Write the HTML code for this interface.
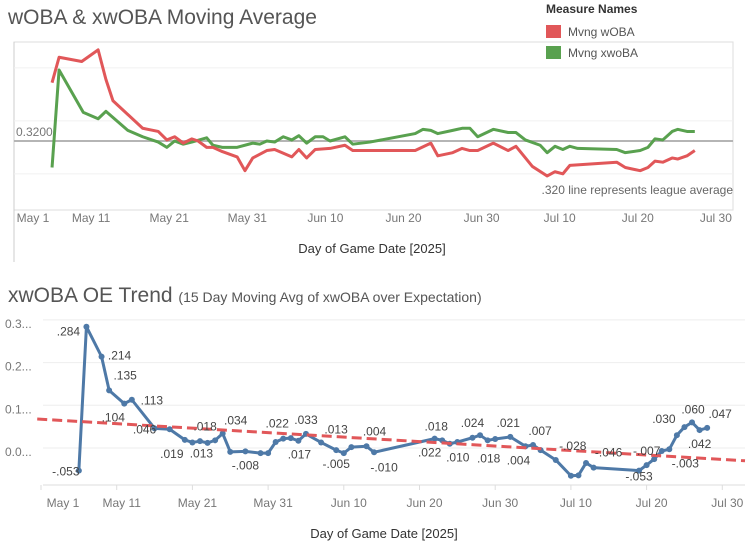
<!DOCTYPE html>
<html><head><meta charset="utf-8"><style>
body{margin:0;background:#fff;width:751px;height:546px;overflow:hidden;font-family:"Liberation Sans",sans-serif}
svg text{font-family:"Liberation Sans",sans-serif}
</style></head><body>
<svg id="c" width="751" height="546" viewBox="0 0 751 546">
<text x="8" y="24" font-size="21" fill="#555">wOBA &amp; xwOBA Moving Average</text>
<text x="546" y="13" font-size="12" font-weight="bold" fill="#333">Measure Names</text>
<rect x="546" y="25" width="15" height="13" fill="#e15759"/>
<text x="568" y="36" font-size="12" fill="#555">Mvng wOBA</text>
<rect x="546" y="46" width="15" height="13" fill="#59a14f"/>
<text x="568" y="57" font-size="12" fill="#555">Mvng xwoBA</text>
<g id="topchart"></g>
<text x="8" y="302" font-size="21" fill="#555">xwOBA OE Trend <tspan font-size="14">(15 Day Moving Avg of xwOBA over Expectation)</tspan></text>
<g id="botchart"></g>
</svg>
<script>
// ---- top chart data ----
const topTickLabels = ["May 1","May 11","May 21","May 31","Jun 10","Jun 20","Jun 30","Jul 10","Jul 20","Jul 30"];
const topGridValues = [0.289, 0.339, 0.389];
const leagueAvg = 0.320;
const wobaDays = [5.0,5.9,8.8,10.9,11.9,12.8,14.7,16.6,18.6,19.7,20.7,21.8,22.9,23.7,24.8,25.6,26.8,28.7,29.7,30.7,32.5,33.5,35.7,36.6,37.6,38.7,40.6,42.5,43.5,51.5,53.5,54.4,56.3,57.5,58.5,59.5,61.5,63.4,64.4,66.5,68.4,69.4,70.4,71.3,77.3,78.4,80.3,81.3,82.2,83.2,84.4,85.1,86.3,87.3];
const wobaValues = [.375,.399,.395,.406,.378,.358,.345,.332,.329,.321,.324,.318,.322,.320,.314,.314,.310,.305,.292,.304,.311,.312,.305,.312,.304,.312,.313,.316,.311,.311,.318,.306,.309,.313,.311,.311,.318,.311,.315,.296,.287,.291,.289,.297,.300,.295,.292,.295,.301,.300,.304,.303,.306,.311];
const xwobaDays = [5.0,5.9,9.0,10.9,11.9,14.7,16.6,18.6,19.7,20.7,21.8,22.9,24.8,25.6,26.8,28.7,30.7,31.6,32.5,33.5,34.6,35.7,36.6,37.6,38.7,39.7,40.6,42.5,43.5,45.7,51.5,52.5,53.5,54.4,56.3,57.5,58.5,59.5,61.5,63.4,64.4,65.6,67.5,68.4,69.4,70.4,71.3,72.3,77.3,78.4,80.3,81.3,82.2,83.2,84.4,85.1,86.3,87.3];
const xwobaValues = [.295,.387,.347,.341,.348,.330,.324,.319,.314,.320,.317,.319,.323,.316,.314,.314,.318,.317,.320,.319,.324,.321,.325,.318,.324,.324,.320,.324,.317,.319,.327,.331,.330,.327,.330,.332,.332,.324,.331,.328,.328,.321,.316,.309,.315,.312,.315,.313,.312,.309,.311,.314,.322,.321,.329,.331,.329,.329];

// ---- bottom chart data ----
const botTickLabels = ["May 1","May 11","May 21","May 31","Jun 10","Jun 20","Jun 30","Jul 10","Jul 20","Jul 30"];
const botYTicks = [0.3,0.2,0.1,0.0];
const botYTickLabels = ["0.3...","0.2...","0.1...","0.0..."];
const oeDays = [5,6,8,9,11,12,15,17,19,20,21,22,23,24,25,27,29,30,31,32,33,34,35,37,39,40,41,43,44,52,53,54,55,57,58,59,60,62,64,65,66,68,70,71,72,73,79,80,81,82,83,84,85,86,87,88];
const oeValues = [-.053,.284,.214,.135,.104,.113,.046,.044,.019,.013,.016,.012,.018,.034,-.009,-.008,-.012,-.012,.014,.022,.023,.017,.033,.013,-.005,-.012,.002,.004,-.010,.022,.018,.010,.014,.024,.030,.018,.021,.026,.004,.007,-.005,-.028,-.065,-.064,-.035,-.046,-.053,-.040,-.026,-.007,-.003,.030,.049,.060,.042,.047];
const labelIdx = [0,1,2,3,4,5,6,8,9,12,13,15,19,21,22,23,24,27,28,29,30,31,33,35,36,38,39,41,45,46,49,50,51,53,54,55];
const trendIntercept = 0.0674;
const trendSlope = -0.001047;

const NS="http://www.w3.org/2000/svg";
function mk(parent,tag,attrs){const e=document.createElementNS(NS,tag);for(const k in attrs)e.setAttribute(k,attrs[k]);parent.appendChild(e);return e;}
function fmt(v){const s=Math.abs(v).toFixed(3).replace(/^0/,"");return (v<0?"-":"")+s;}

// top scales
const tx = d => 13 + d*7.81;
const ty = v => 141 - (v-0.32)*1060;
const topG=document.getElementById('topchart');
let e;
e=mk(topG,'rect',{x:14,y:42,width:719,height:168,fill:'none',stroke:'#ddd'});


e=mk(topG,'line',{x1:14,y1:42,x2:14,y2:262,stroke:'#ccc'});


topGridValues.forEach(v=>{
  e=mk(topG,'line',{x1:14,x2:733,y1:ty(v),y2:ty(v),stroke:'#f0f0f0'});
  
  
});
e=mk(topG,'line',{x1:14,x2:733,y1:ty(leagueAvg),y2:ty(leagueAvg),stroke:'#b5b5b5','stroke-width':2});


e=mk(topG,'text',{x:16,y:ty(leagueAvg)-5,'font-size':12,fill:'#777'});e.textContent=leagueAvg.toFixed(4);


e=mk(topG,'text',{x:733,y:194,'font-size':12,fill:'#666','text-anchor':'end'});e.textContent=".320 line represents league average";


topTickLabels.forEach((t,i)=>{
  e=mk(topG,'text',{x:tx(i*10)+ (i==0?20:0),y:222,'font-size':12,fill:'#777','text-anchor':'middle'});e.textContent=t;
  
  
});
e=mk(topG,'text',{x:372,y:253,'font-size':13,fill:'#333','text-anchor':'middle'});e.textContent="Day of Game Date [2025]";


e=mk(topG,'polyline',{points:xwobaDays.map((d,i)=>tx(d)+','+ty(xwobaValues[i])).join(' '),fill:'none',stroke:'#59a14f','stroke-width':3,'stroke-linejoin':'round'});


e=mk(topG,'polyline',{points:wobaDays.map((d,i)=>tx(d)+','+ty(wobaValues[i])).join(' '),fill:'none',stroke:'#e15759','stroke-width':3,'stroke-linejoin':'round'});



// bottom scales
const bx = d => 41 + d*7.57;
const by = v => 448 - v*427;
const botG=document.getElementById('botchart');
botYTicks.forEach((v,i)=>{
  e=mk(botG,'line',{x1:43,x2:745,y1:by(v),y2:by(v),stroke:'#eee'});
  
  
  e=mk(botG,'text',{x:5,y:by(v)+8,'font-size':12,fill:'#777'});e.textContent=botYTickLabels[i];
  
  
});
e=mk(botG,'line',{x1:43,x2:745,y1:485,y2:485,stroke:'#ddd'});


botTickLabels.forEach((t,i)=>{
  const x=bx(i*10);
  e=mk(botG,'line',{x1:x,x2:x,y1:485,y2:490,stroke:'#ddd'});
  
  
  e=mk(botG,'text',{x:x+(i==0?22:5),y:507,'font-size':12,fill:'#777','text-anchor':'middle'});e.textContent=t;
  
  
});
e=mk(botG,'text',{x:384,y:538,'font-size':13,fill:'#333','text-anchor':'middle'});e.textContent="Day of Game Date [2025]";


e=mk(botG,'polyline',{points:oeDays.map((d,i)=>bx(d)+','+by(oeValues[i])).join(' '),fill:'none',stroke:'#4e79a7','stroke-width':3,'stroke-linejoin':'round'});


oeDays.forEach((d,i)=>{
  e=mk(botG,'circle',{cx:bx(d),cy:by(oeValues[i]),r:3,fill:'#4e79a7'});
  
  
});
const d0=-0.5,d1=93;
e=mk(botG,'line',{x1:bx(d0),y1:by(trendIntercept+trendSlope*d0),x2:bx(d1),y2:by(trendIntercept+trendSlope*d1),stroke:'#e15759','stroke-width':3,'stroke-dasharray':'10 5'});


const labelOff = [[-13,5],[-18,9],[18,3],[16,-11],[-11,18],[20,5],[-10,5],[-13,18],[9,15],[-10,-10],[13,-9],[0,18],[-6,-11],[1,18],[0,-10],[15,-9],[0,18],[8,-11],[10,19],[-5,18],[-6,-10],[8,18],[0,-11],[1,22],[13,-12],[-7,18],[7,-10],[17,-10],[15,-11],[0,10],[-15,4],[16,18],[-13,-12],[1,-9],[0,18],[13,-10]];
labelIdx.forEach((k,j)=>{
  e=mk(botG,'text',{x:bx(oeDays[k])+labelOff[j][0],y:by(oeValues[k])+labelOff[j][1],'font-size':12,fill:'#444','text-anchor':'middle'});
  e.textContent=fmt(oeValues[k]);
  
  
});
</script>
</body></html>
